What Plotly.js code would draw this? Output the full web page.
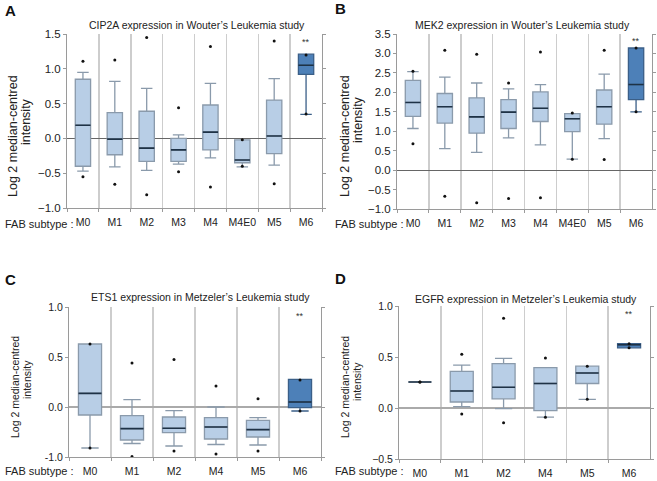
<!DOCTYPE html>
<html>
<head>
<meta charset="utf-8">
<script src="https://cdn.plot.ly/plotly-3.0.1.min.js"></script>
<style>html,body{margin:0;padding:0;background:#fff;}#chart{width:657px;height:481px;}</style>
</head>
<body>
<div id="chart"></div>
<script>
// ---------- Panel A: CIP2A (Wouter) ----------
var catsA = ["M0","M1","M2","M3","M4","M4E0","M5","M6"];
var hiA  = [0.95, 0.82, 0.72, 0.05, 0.79, -0.02, 0.86, 1.21];
var q3A  = [0.85, 0.37, 0.39, 0.00, 0.48, -0.02, 0.55, 1.21];
var medA = [0.19, -0.01, -0.14, -0.165, 0.09, -0.31, 0.035, 1.05];
var q1A  = [-0.40, -0.235, -0.33, -0.33, -0.165, -0.35, -0.22, 0.92];
var loA  = [-0.47, -0.41, -0.46, -0.37, -0.28, -0.41, -0.385, 0.345];
var maxA = [1.11, 1.125, 1.45, 0.44, 1.32, -0.02, 1.40, 1.20];
var minA = [-0.55, -0.66, -0.81, -0.48, -0.70, -0.40, -0.65, 0.35];

// ---------- Panel B: MEK2 (Wouter) ----------
var catsB = ["M0","M1","M2","M3","M4","M4E0","M5","M6"];
var hiB  = [2.53, 2.39, 2.24, 2.09, 2.20, 1.45, 2.47, 3.14];
var q3B  = [2.31, 1.97, 1.86, 1.81, 2.01, 1.45, 2.06, 3.14];
var medB = [1.74, 1.63, 1.37, 1.49, 1.59, 1.32, 1.63, 2.20];
var q1B  = [1.38, 1.21, 0.95, 1.07, 1.25, 0.99, 1.18, 1.81];
var loB  = [1.07, 0.55, 0.455, 0.83, 0.65, 0.28, 0.81, 1.50];
var maxB = [2.54, 3.08, 2.98, 2.24, 3.04, 1.47, 3.08, 3.14];
var minB = [0.68, -0.67, -0.84, -0.73, -0.71, 0.28, 0.27, 1.50];

// ---------- Panel C: ETS1 (Metzeler) ----------
var catsC = ["M0","M1","M2","M4","M5","M6"];
var hiC  = [0.63, 0.073, -0.037, 0.0, -0.106, 0.276];
var q3C  = [0.63, -0.086, -0.10, -0.106, -0.133, 0.276];
var medC = [0.136, -0.216, -0.213, -0.20, -0.226, 0.05];
var q1C  = [-0.08, -0.33, -0.256, -0.32, -0.30, -0.007];
var loC  = [-0.41, -0.365, -0.39, -0.375, -0.38, -0.04];
var maxC = [0.63, 0.44, 0.475, 0.21, 0.083, 0.27];
var minC = [-0.41, -0.495, -0.44, -0.47, -0.44, -0.04];
var tickValsC = [-0.5, 0, 0.5, 1.0];
var tickTextC = ["-1.0", "0.0", "0.5", "1.0"];

// ---------- Panel D: EGFR (Metzeler) ----------
var catsD = ["M0","M1","M2","M4","M5","M6"];
var hiD  = [0.255, 0.42, 0.487, 0.395, 0.41, 0.63];
var q3D  = [0.255, 0.36, 0.435, 0.395, 0.41, 0.63];
var medD = [0.255, 0.167, 0.203, 0.24, 0.343, 0.62];
var q1D  = [0.255, 0.059, 0.09, -0.026, 0.24, 0.59];
var loD  = [0.255, 0.013, -0.007, -0.09, 0.085, 0.59];
var maxD = [0.255, 0.526, 0.88, 0.49, 0.41, 0.63];
var minD = [0.255, -0.06, -0.144, -0.09, 0.085, 0.59];

var starCat = "M6";
var starA = 1.39, starB = 3.33, starC = 0.91, starD = 0.925;

var titles = [
  "CIP2A expression in Wouter\u2019s Leukemia study",
  "MEK2 expression in Wouter\u2019s Leukemia study",
  "ETS1 expression in Metzeler\u2019s Leukemia study",
  "EGFR expression in Metzeler\u2019s Leukemia study"
];

var FONT = "Arial, 'Liberation Sans', sans-serif";
var W = 657, H = 481;
function px(x){ return x / W; }
function py(y){ return 1 - y / H; }

var LIGHT = "#b8cee6", LIGHT_LINE = "#8a9aab";
var DARK = "#4d80b8", DARK_LINE = "#3b5f88";
var MED_LINE = "#1e3246";

var traces = [];
function addPanel(cats, hi, q3, med, q1, lo, mx, mn, ax, bw){
  var xa = "x" + ax, ya = "y" + ax;
  var li = [], di = [];
  cats.forEach(function(c, i){ if (c === "M6") di.push(i); else li.push(i); });
  function pick(arr, idx){ return idx.map(function(i){ return arr[i]; }); }
  [[li, LIGHT, LIGHT_LINE], [di, DARK, DARK_LINE]].forEach(function(g){
    traces.push({
      type: "box", xaxis: xa, yaxis: ya,
      x: pick(cats, g[0]), q1: pick(q1, g[0]), median: pick(med, g[0]), q3: pick(q3, g[0]),
      lowerfence: pick(lo, g[0]), upperfence: pick(hi, g[0]),
      fillcolor: g[1], line: {color: g[2], width: 1.3},
      width: bw, whiskerwidth: 0.75, boxpoints: false, showlegend: false, hoverinfo: "skip"
    });
  });
  // darker median lines drawn over the boxes
  traces.push({
    type: "box", xaxis: xa, yaxis: ya,
    x: cats, q1: med, median: med, q3: med, lowerfence: med, upperfence: med,
    fillcolor: "rgba(0,0,0,0)", line: {color: MED_LINE, width: 1.6},
    width: bw, whiskerwidth: 0, boxpoints: false, showlegend: false, hoverinfo: "skip"
  });
  traces.push({
    type: "scatter", mode: "markers", xaxis: xa, yaxis: ya,
    x: cats.concat(cats), y: mx.concat(mn),
    marker: {size: 3, color: "#111"}, showlegend: false, hoverinfo: "skip"
  });
}
addPanel(catsA, hiA, q3A, medA, q1A, loA, maxA, minA, "", 0.48);
addPanel(catsB, hiB, q3B, medB, q1B, loB, maxB, minB, "2", 0.48);
addPanel(catsC, hiC, q3C, medC, q1C, loC, maxC, minC, "3", 0.55);
addPanel(catsD, hiD, q3D, medD, q1D, loD, maxD, minD, "4", 0.55);

function xAxis(cats, dom, anchor, fs){
  return {
    domain: dom, anchor: anchor, type: "category", categoryorder: "array", categoryarray: cats,
    range: [-0.5, cats.length - 0.5], tickson: "boundaries", tickangle: 0,
    showgrid: true, gridcolor: "#cdcdcd", gridwidth: 1.5,
    showline: true, linecolor: "#9a9a9a", linewidth: 1, mirror: false,
    ticks: "outside", ticklen: 3, tickcolor: "#9a9a9a", ticklabelstandoff: 4,
    tickfont: {family: FONT, size: fs, color: "#222"}, zeroline: false, fixedrange: true
  };
}
function yAxis(dom, anchor, range, dtick, zc, zw, fs, tv, tt){
  var a = {
    domain: dom, anchor: anchor, range: range, dtick: dtick, tick0: 0, tickformat: ".1f",
    showgrid: false, showline: true, linecolor: "#9a9a9a", linewidth: 1, mirror: "ticks",
    ticks: "outside", ticklen: 3, tickcolor: "#9a9a9a",
    zeroline: true, zerolinecolor: zc, zerolinewidth: zw,
    tickfont: {family: FONT, size: fs, color: "#222"}, fixedrange: true
  };
  if (tv) { a.tickmode = "array"; a.tickvals = tv; a.ticktext = tt; }
  return a;
}

var layout = {
  width: W, height: H, margin: {l: 0, r: 0, t: 0, b: 0},
  paper_bgcolor: "#fff", plot_bgcolor: "#fff", boxmode: "overlay", showlegend: false,
  xaxis:  xAxis(catsA, [px(67), px(322)], "y", 10.5),
  yaxis:  yAxis([py(208), py(34)], "x", [-1, 1.5], 0.5, "#666", 1, 11.5),
  xaxis2: xAxis(catsB, [px(397), px(652)], "y2", 10.5),
  yaxis2: yAxis([py(209), py(34)], "x2", [-1, 3.5], 0.5, "#666", 1, 11.5),
  xaxis3: xAxis(catsC, [px(69), px(321)], "y3", 10.5),
  yaxis3: yAxis([py(457), py(307)], "x3", [-0.5, 1.0], 0.5, "#aaaaaa", 2, 10.5, tickValsC, tickTextC),
  xaxis4: xAxis(catsD, [px(399), px(650)], "y4", 10.5),
  yaxis4: yAxis([py(459), py(306)], "x4", [-0.5, 1.0], 0.5, "#aaaaaa", 2, 10.5),
  annotations: []
};

var ann = layout.annotations;
function txt(t, x, y, opt){
  var a = {text: t, x: px(x), y: py(y), xref: "paper", yref: "paper", showarrow: false,
    xanchor: "center", yanchor: "middle", font: {family: FONT, size: 11, color: "#222"}};
  for (var k in opt) a[k] = opt[k];
  ann.push(a);
}
// panel letters
txt("<b>A</b>", 3, 10, {xanchor: "left", font: {family: FONT, size: 15, color: "#111"}});
txt("<b>B</b>", 333, 9, {xanchor: "left", font: {family: FONT, size: 15, color: "#111"}});
txt("<b>C</b>", 3, 279, {xanchor: "left", font: {family: FONT, size: 15, color: "#111"}});
txt("<b>D</b>", 333, 278, {xanchor: "left", font: {family: FONT, size: 15, color: "#111"}});
// titles
txt(titles[0], 197, 25, {font: {family: FONT, size: 10.5, color: "#222"}});
txt(titles[1], 522, 25, {font: {family: FONT, size: 10.5, color: "#222"}});
txt(titles[2], 200, 297, {font: {family: FONT, size: 10.5, color: "#222"}});
txt(titles[3], 526, 299, {font: {family: FONT, size: 10.5, color: "#222"}});
// FAB subtype labels
txt("FAB subtype :", 3, 224, {xanchor: "left", font: {family: FONT, size: 11, color: "#222"}});
txt("FAB subtype :", 333, 224, {xanchor: "left", font: {family: FONT, size: 11, color: "#222"}});
txt("FAB subtype :", 3, 471, {xanchor: "left", font: {family: FONT, size: 11, color: "#222"}});
txt("FAB subtype :", 333, 471, {xanchor: "left", font: {family: FONT, size: 11, color: "#222"}});
// y-axis titles
var yt1 = "Log 2 median-centred", yt2 = "intensity";
[[13, 136, 26, 122, 12.5], [345, 136, 358, 120, 12.5], [15, 387, 27, 380, 10.5], [345, 387, 357, 382, 10.5]].forEach(function(p){
  txt(yt1, p[0], p[1], {textangle: -90, font: {family: FONT, size: p[4], color: "#222"}});
  txt(yt2, p[2], p[3], {textangle: -90, font: {family: FONT, size: p[4], color: "#222"}});
});
// significance stars
[["x", "y", starA], ["x2", "y2", starB], ["x3", "y3", starC], ["x4", "y4", starD]].forEach(function(s){
  ann.push({text: "**", x: starCat, y: s[2], xref: s[0], yref: s[1], showarrow: false,
    font: {family: FONT, size: 9, color: "#333"}});
});

Plotly.newPlot("chart", traces, layout, {staticPlot: true, displayModeBar: false});
</script>
</body>
</html>
